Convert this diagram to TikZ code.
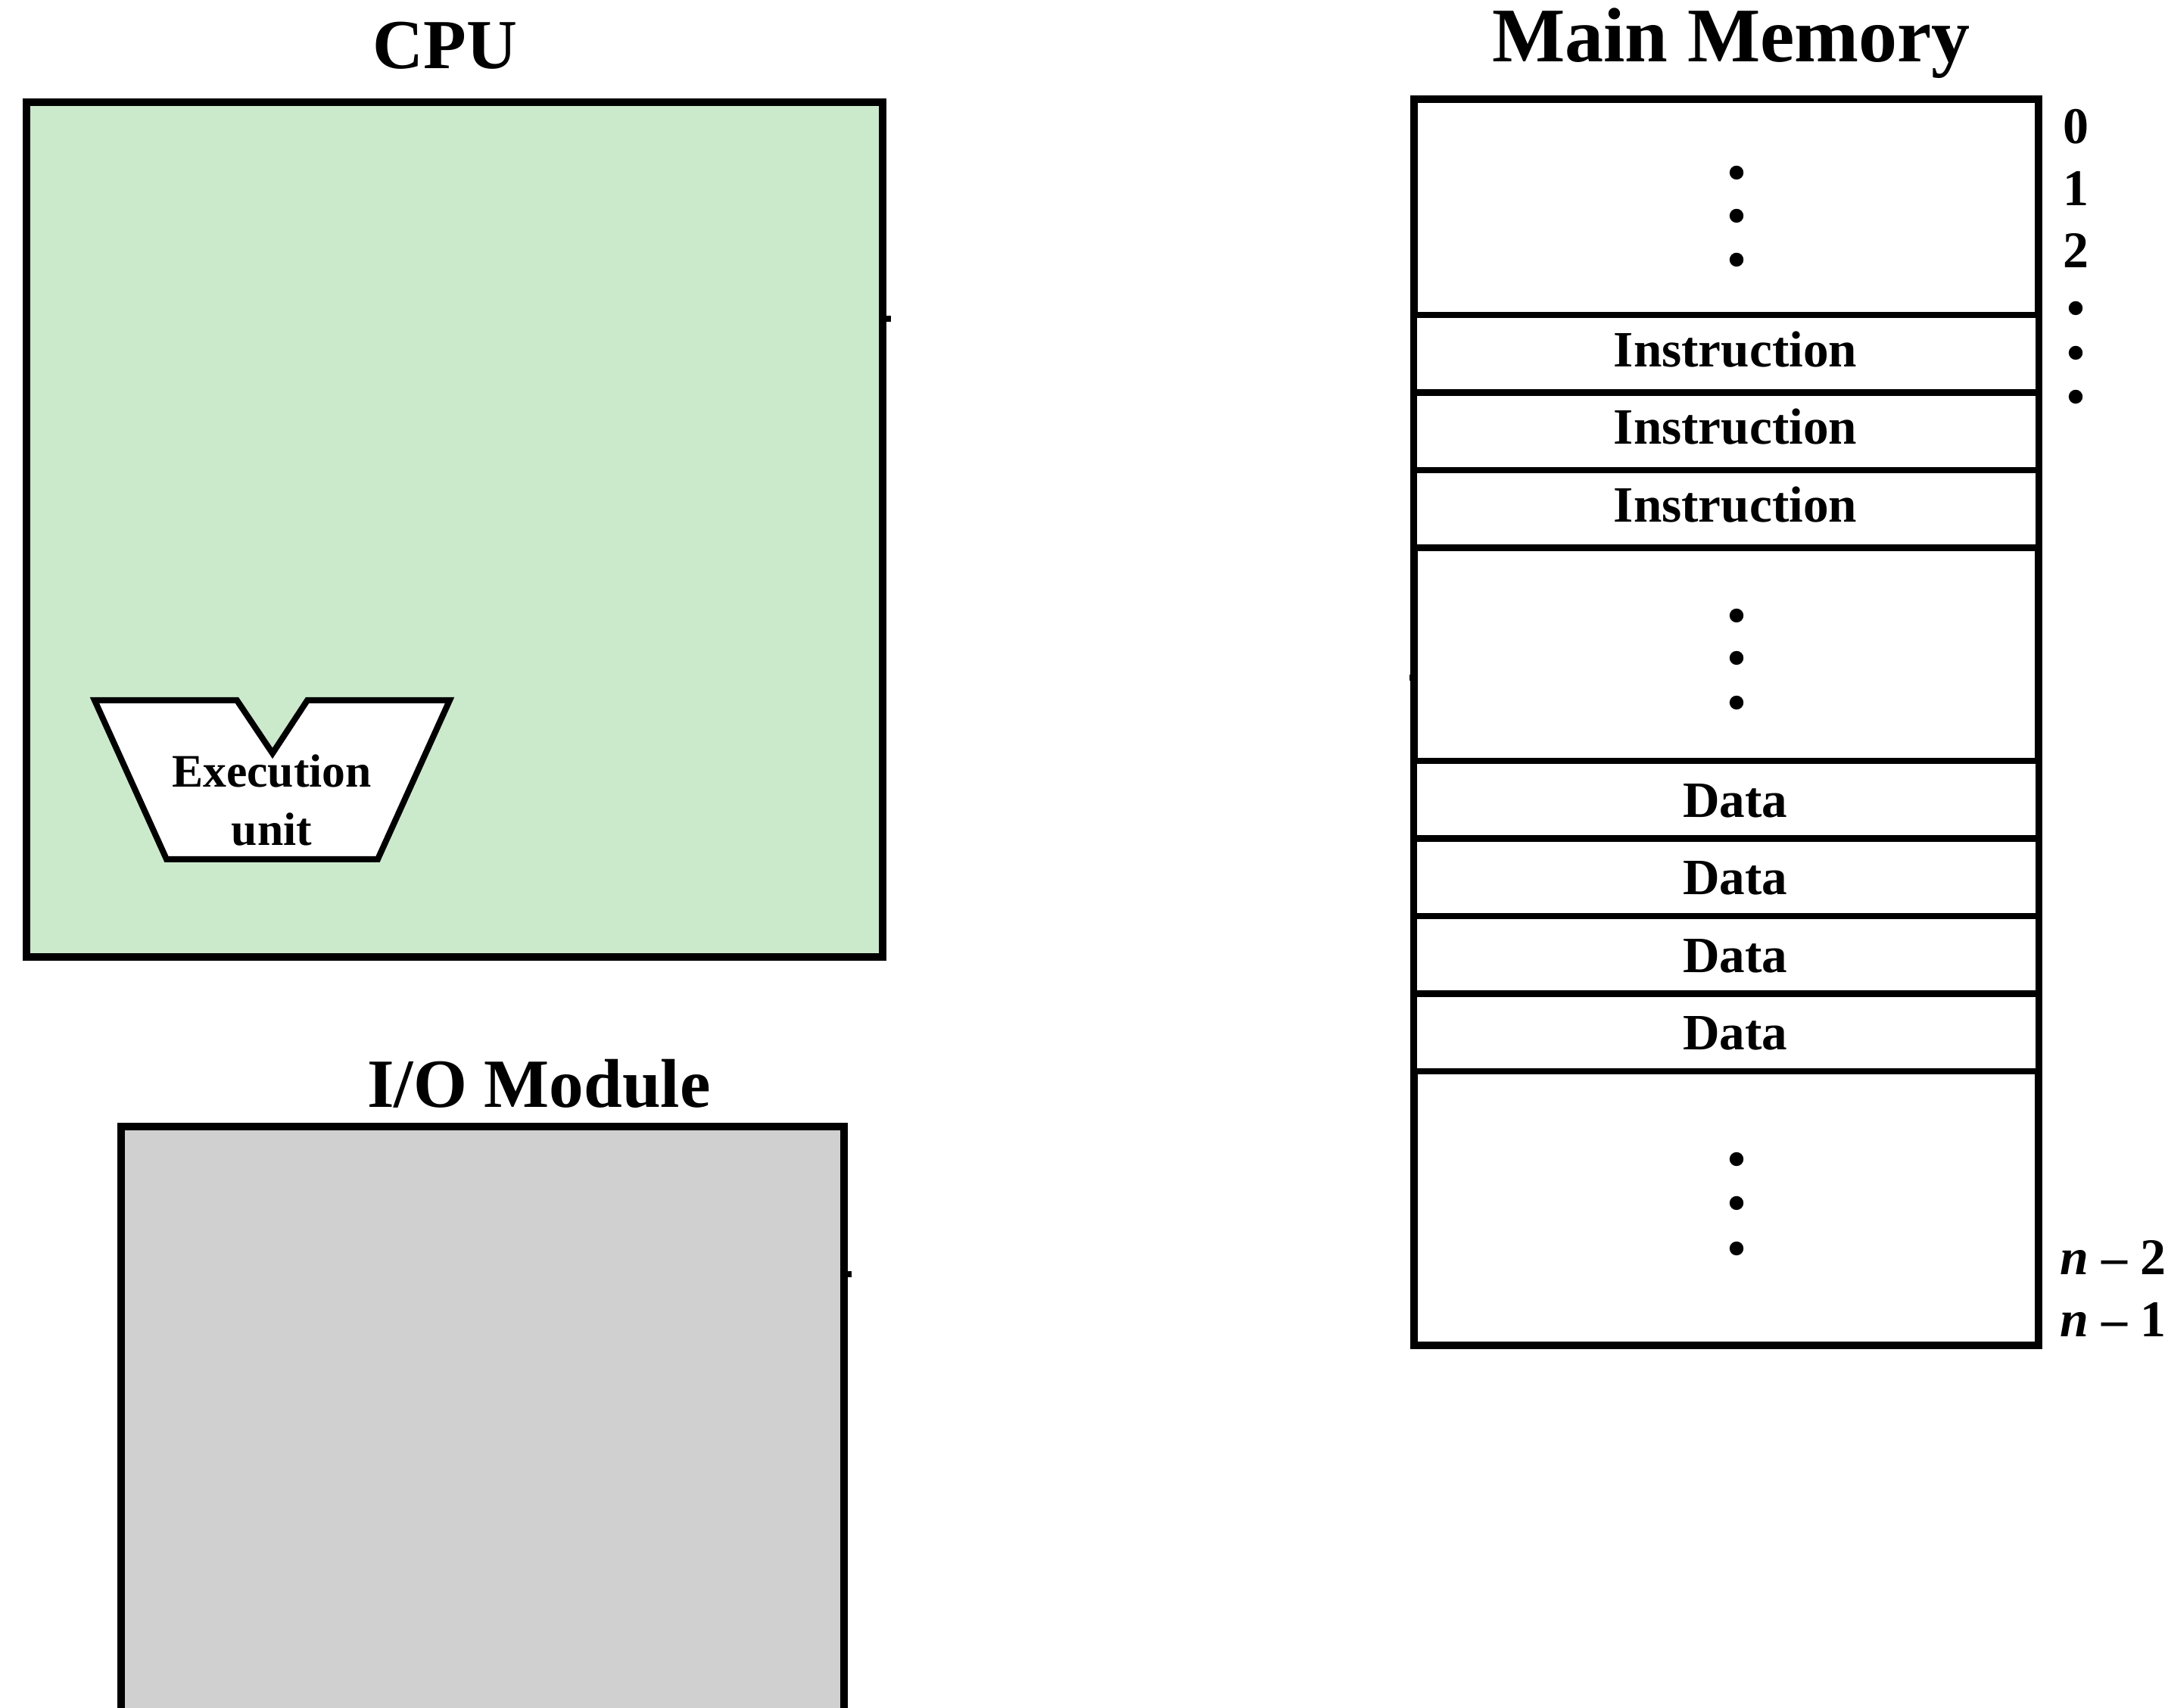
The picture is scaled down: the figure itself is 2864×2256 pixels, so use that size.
\documentclass[tikz,border=0pt]{standalone}
\usepackage{fontspec}
\setmainfont{Liberation Serif}
\definecolor{cpugreen}{RGB}{203,234,204}
\definecolor{iogray}{RGB}{208,208,208}
\begin{document}
\begin{tikzpicture}[x=0.25pt,y=-0.25pt,
  unitbox/.style={draw=black, line width=2.5pt, anchor=north west, inner sep=0pt, outer sep=0pt},
  cell/.style={draw=black, line width=2.1pt, fill=white, anchor=north west, inner sep=0pt, outer sep=0pt,
    minimum width=206.25pt, minimum height=25.6pt},
  celltext/.style={inner sep=0pt, font=\fontsize{16.8pt}{20pt}\selectfont\bfseries},
  title/.style={anchor=base, inner sep=0pt, font=\fontsize{23.2pt}{27pt}\selectfont\bfseries},
  addr/.style={anchor=base west, inner sep=0pt, font=\fontsize{17pt}{20pt}\selectfont\bfseries},
  dot/.style={fill=black},
  stub/.style={line width=2pt}]
\useasboundingbox (0,0) rectangle (2864,2256);
\clip (0,0) rectangle (2864,2256);

% CPU
\node[unitbox, fill=cpugreen, minimum width=282.75pt, minimum height=282.25pt] (cpu) at (35,135) {};
\node[title] (cputitle) at (588,91) {CPU};
\draw[stub] (cpu.east |- 0,421) -- ++(11,0);

% execution unit
\draw[line width=2pt, fill=white] (125,925) coordinate (eu1) -- (313,925) -- (360,995) coordinate (eunotch)
  -- (406,925) -- (594,925) -- (499,1135) -- (220,1135) -- cycle;
\node[align=center, inner sep=0pt, font=\fontsize{15.4pt}{19.3pt}\selectfont\bfseries] (eu) at (359,1057) {Execution\\unit};

% I/O module
\node[unitbox, fill=iogray, minimum width=238.75pt, minimum height=230pt] (io) at (160,1488) {};
\node[title, font=\fontsize{22.8pt}{27pt}\selectfont\bfseries] (iotitle) at (712,1463) {I/O Module};
\draw[stub] (io.east |- 0,1683) -- ++(10,0);

% main memory
\node[unitbox, fill=white, minimum width=206.25pt, minimum height=411.5pt] (mem) at (1868,131) {};
\node[title, font=\fontsize{25.5pt}{30pt}\selectfont\bfseries] (memtitle) at (2287,82) {Main Memory};
\draw[stub] (mem.west |- 0,895) -- ++(-6,0);

\node[cell] (i1) at (1868,416) {};
\node[cell] (i2) at (1868,518.5) {};
\node[cell] (i3) at (1868,621) {};
\node[cell] (d1) at (1868,1005) {};
\node[cell] (d2) at (1868,1107.5) {};
\node[cell] (d3) at (1868,1210) {};
\node[cell] (d4) at (1868,1312.5) {};
\foreach \c in {i1,i2,i3}
  \node[celltext] at ([xshift=3pt,yshift=1.5pt]\c.center) {Instruction};
\foreach \c in {d1,d2,d3,d4}
  \node[celltext] at ([xshift=3pt,yshift=-0.4pt]\c.center) {Data};

% ellipsis dots inside memory
\foreach \y in {228,285,343, 813,869,928, 1531,1589,1649}
  \fill[dot] (2294,\y) circle[radius=2.3pt];

% addresses
\node[addr] (a0) at (2725,190) {0};
\node[addr] (a1) at (2725,272) {1};
\node[addr] (a2) at (2725,354) {2};
\foreach \y in {407,466,524}
  \fill[dot] (2742,\y) circle[radius=2.3pt];
\node[addr] (an2) at (2721,1684) {\textit{n} – 2};
\node[addr] (an1) at (2721,1766) {\textit{n} – 1};
\end{tikzpicture}
\end{document}
